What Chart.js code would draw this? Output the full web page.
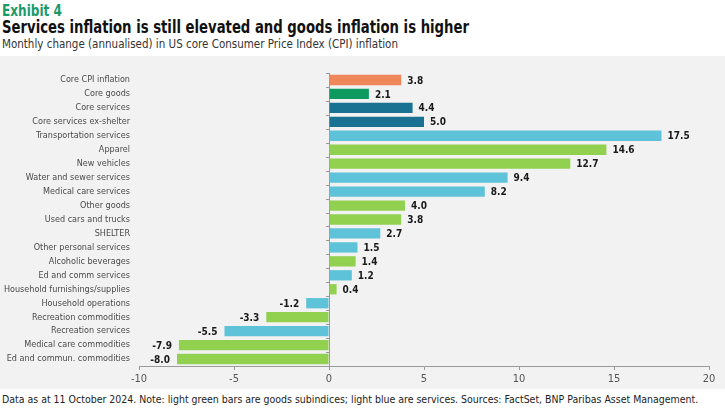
<!DOCTYPE html>
<html>
<head>
<meta charset="utf-8">
<script src="https://cdn.jsdelivr.net/npm/chart.js@4.4.1/dist/chart.umd.min.js"></script>
<style>
  body { margin: 0; width: 725px; height: 408px; background: #fff; overflow: hidden;
         font-family: "DejaVu Sans Condensed", "Liberation Sans", sans-serif; position: relative; }
  .txt { position: absolute; left: 2px; white-space: nowrap; transform-origin: left top; }
  #exhibit { top: 1px; font-size: 16px; font-weight: bold; color: #1b9a68; transform: scaleX(0.84); }
  #title { top: 17px; font-size: 17px; font-weight: bold; color: #111; transform: scaleX(0.865); }
  #subtitle { top: 37px; font-size: 11.5px; color: #333; }
  #panel { position: absolute; left: 0; top: 56px; width: 725px; height: 333px; background: #f2f2f2; }
  #note { top: 393px; font-size: 10.8px; color: #222; transform: scaleX(0.97); }
</style>
</head>
<body>
<div class="txt" id="exhibit">Exhibit 4</div>
<div class="txt" id="title">Services inflation is still elevated and goods inflation is higher</div>
<div class="txt" id="subtitle">Monthly change (annualised) in US core Consumer Price Index (CPI) inflation</div>
<div id="panel"><canvas id="myChart" width="725" height="333"></canvas></div>
<div class="txt" id="note">Data as at 11 October 2024. Note: light green bars are goods subindices; light blue are services. Sources: FactSet, BNP Paribas Asset Management.</div>

<script>
// categories, top to bottom
const categories = [
    "Core CPI inflation", "Core goods", "Core services", "Core services ex-shelter",
    "Transportation services", "Apparel", "New vehicles", "Water and sewer services",
    "Medical care services", "Other goods", "Used cars and trucks", "SHELTER",
    "Other personal services", "Alcoholic beverages", "Ed and comm services",
    "Household furnishings/supplies", "Household operations", "Recreation commodities",
    "Recreation services", "Medical care commodities", "Ed and commun. commodities"
];
const values = [3.8, 2.1, 4.4, 5.0, 17.5, 14.6, 12.7, 9.4, 8.2, 4.0, 3.8, 2.7,
                1.5, 1.4, 1.2, 0.4, -1.2, -3.3, -5.5, -7.9, -8.0];
const groups = ["core", "coreGoods", "coreServices", "coreServices",
                "services", "goods", "goods", "services", "services", "goods", "goods", "services",
                "services", "goods", "services", "goods", "services", "goods", "services", "goods", "goods"];
const xTicks = [-10, -5, 0, 5, 10, 15, 20];

const palette = {
    core: "#f0875a",
    coreGoods: "#0e9a5f",
    coreServices: "#1a7292",
    services: "#5ec2d9",
    goods: "#92d050"
};

const fontFamily = "'DejaVu Sans Condensed', 'Liberation Sans', sans-serif";

const valueLabels = {
    id: "valueLabels",
    afterDatasetsDraw(chart) {
        const ctx = chart.ctx;
        const meta = chart.getDatasetMeta(0);
        ctx.save();
        ctx.font = "bold 10px " + fontFamily;
        ctx.fillStyle = "#1a1a1a";
        ctx.textBaseline = "middle";
        meta.data.forEach((bar, i) => {
            const v = values[i];
            if (v >= 0) {
                ctx.textAlign = "left";
                ctx.fillText(v.toFixed(1), bar.x + 6, bar.y + 1);
            } else {
                ctx.textAlign = "right";
                ctx.fillText(v.toFixed(1), bar.x - 7, bar.y + 1);
            }
        });
        // small ticks on the zero line between categories
        const x0 = chart.scales.x.getPixelForValue(0);
        const y = chart.scales.y;
        ctx.strokeStyle = "#9a9a9a";
        ctx.lineWidth = 1;
        for (let i = 0; i <= categories.length; i++) {
            const py = Math.round(y.getPixelForValue(i - 0.5)) + 0.5;
            ctx.beginPath();
            ctx.moveTo(x0 - 3, py);
            ctx.lineTo(x0, py);
            ctx.stroke();
        }
        ctx.restore();
    }
};

const ctx = document.getElementById("myChart").getContext("2d");
new Chart(ctx, {
    type: "bar",
    data: {
        labels: categories,
        datasets: [{
            data: values,
            backgroundColor: groups.map(g => palette[g]),
            borderWidth: 0,
            barPercentage: 0.74,
            categoryPercentage: 1
        }]
    },
    options: {
        indexAxis: "y",
        responsive: false,
        animation: false,
        layout: { padding: { top: 17, right: 16, bottom: 0, left: 0 } },
        plugins: {
            legend: { display: false },
            tooltip: { enabled: false }
        },
        scales: {
            x: {
                min: -10,
                max: 20,
                afterBuildTicks: axis => { axis.ticks = xTicks.map(v => ({ value: v })); },
                afterFit: axis => { axis.height = 23; },
                border: { display: true, color: "#9a9a9a" },
                grid: {
                    color: c => (c.tick && c.tick.value === 0 ? "#9a9a9a" : "transparent"),
                    tickColor: "#9a9a9a",
                    tickLength: 4
                },
                ticks: {
                    color: "#555",
                    padding: 3,
                    font: { family: fontFamily, size: 11 }
                }
            },
            y: {
                afterFit: axis => { axis.width = 139; },
                border: { display: false },
                grid: { display: false, drawTicks: false },
                ticks: {
                    color: "#4a4a4a",
                    padding: 9,
                    autoSkip: false,
                    font: { family: fontFamily, size: 9 }
                }
            }
        }
    },
    plugins: [valueLabels]
});
</script>
</body>
</html>
